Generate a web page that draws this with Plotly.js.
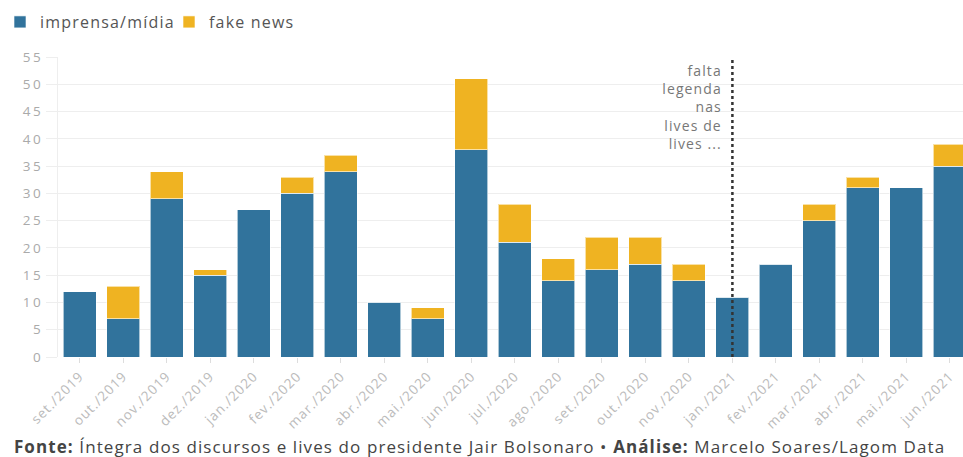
<!DOCTYPE html>
<html><head><meta charset="utf-8">
<script src="https://cdn.plot.ly/plotly-3.0.1.min.js"></script>
<style>
html,body{margin:0;padding:0;background:#fff}#chart{width:963px;height:457px}
#chart .legendtext{letter-spacing:1.2px}
#chart .xtick text{letter-spacing:1px}
#chart .ytick text{letter-spacing:2.5px}
#chart .annotation-text{letter-spacing:1.1px}
</style>
</head><body><div id="chart"></div>
<script>
const categories = ["set./2019","out./2019","nov./2019","dez./2019","jan./2020","fev./2020","mar./2020","abr./2020","mai./2020","jun./2020","jul./2020","ago./2020","set./2020","out./2020","nov./2020","jan./2021","fev./2021","mar./2021","abr./2021","mai./2021","jun./2021"];
const imprensa = [12,7,29,15,27,30,34,10,7,38,21,14,16,17,14,11,17,25,31,31,35];
const fakeNews = [0,6,5,1,0,3,3,0,2,13,7,4,6,5,3,0,0,3,2,0,4];
const yTicks = [0,5,10,15,20,25,30,35,40,45,50,55];
const markerCategory = "jan./2021";
const noteText = "falta<br>legenda<br>nas<br>lives de<br>lives ...";
const sourceText = "<b>Fonte:</b> Íntegra dos discursos e lives do presidente Jair Bolsonaro • <b>Análise:</b> Marcelo Soares/Lagom Data";

const blue = "#31739c", yellow = "#efb322";
const traces = [
  {type:"bar", name:"imprensa/mídia", x:categories, y:imprensa,
   marker:{color:blue, line:{color:"rgba(255,255,255,0.6)", width:1}}},
  {type:"bar", name:"fake news", x:categories, y:fakeNews,
   marker:{color:yellow, line:{color:"rgba(255,255,255,0.6)", width:1}}}
];
const layout = {
  width:963, height:457,
  margin:{l:58, r:0, t:57, b:100},
  barmode:"stack", bargap:0.24,
  paper_bgcolor:"#fff", plot_bgcolor:"#fff",
  font:{family:"Open Sans, sans-serif", color:"#999"},
  showlegend:true,
  legend:{orientation:"h", x:-58/905, xanchor:"left", y:1+35/300, yanchor:"middle",
    font:{size:16, color:"#555"}, itemwidth:20, traceorder:"normal",
    entrywidth:124, entrywidthmode:"pixels"},
  xaxis:{type:"category", range:[-0.5,20.3], tickangle:-45,
    tickfont:{size:13.5, color:"#bbb"}, ticks:"outside", ticklen:5, tickcolor:"#ddd",
    showgrid:false, showline:false, zeroline:false},
  yaxis:{range:[0,55], tickvals:yTicks, ticks:"outside", ticklen:11, tickcolor:"#eee",
    tickfont:{size:13.5, color:"#aaa"}, gridcolor:"#eee", gridwidth:1,
    showline:true, linecolor:"#eee", zeroline:false},
  shapes:[{type:"line", xref:"x", yref:"y", x0:markerCategory, x1:markerCategory, y0:0, y1:55,
    line:{color:"#333", width:2.5, dash:"dot"}}],
  annotations:[
    {xref:"x", yref:"y", x:markerCategory, y:55, xanchor:"right", yanchor:"top", xshift:-8, yshift:-2,
     text:noteText, align:"right", showarrow:false, font:{size:14, color:"#777"}},
    {xref:"paper", yref:"paper", x:(479-58)/905, y:-89/300, xanchor:"center", yanchor:"middle",
     text:sourceText, showarrow:false, font:{size:17, color:"#444"}}
  ]
};
Plotly.newPlot("chart", traces, layout, {displayModeBar:false, staticPlot:true});
</script></body></html>
